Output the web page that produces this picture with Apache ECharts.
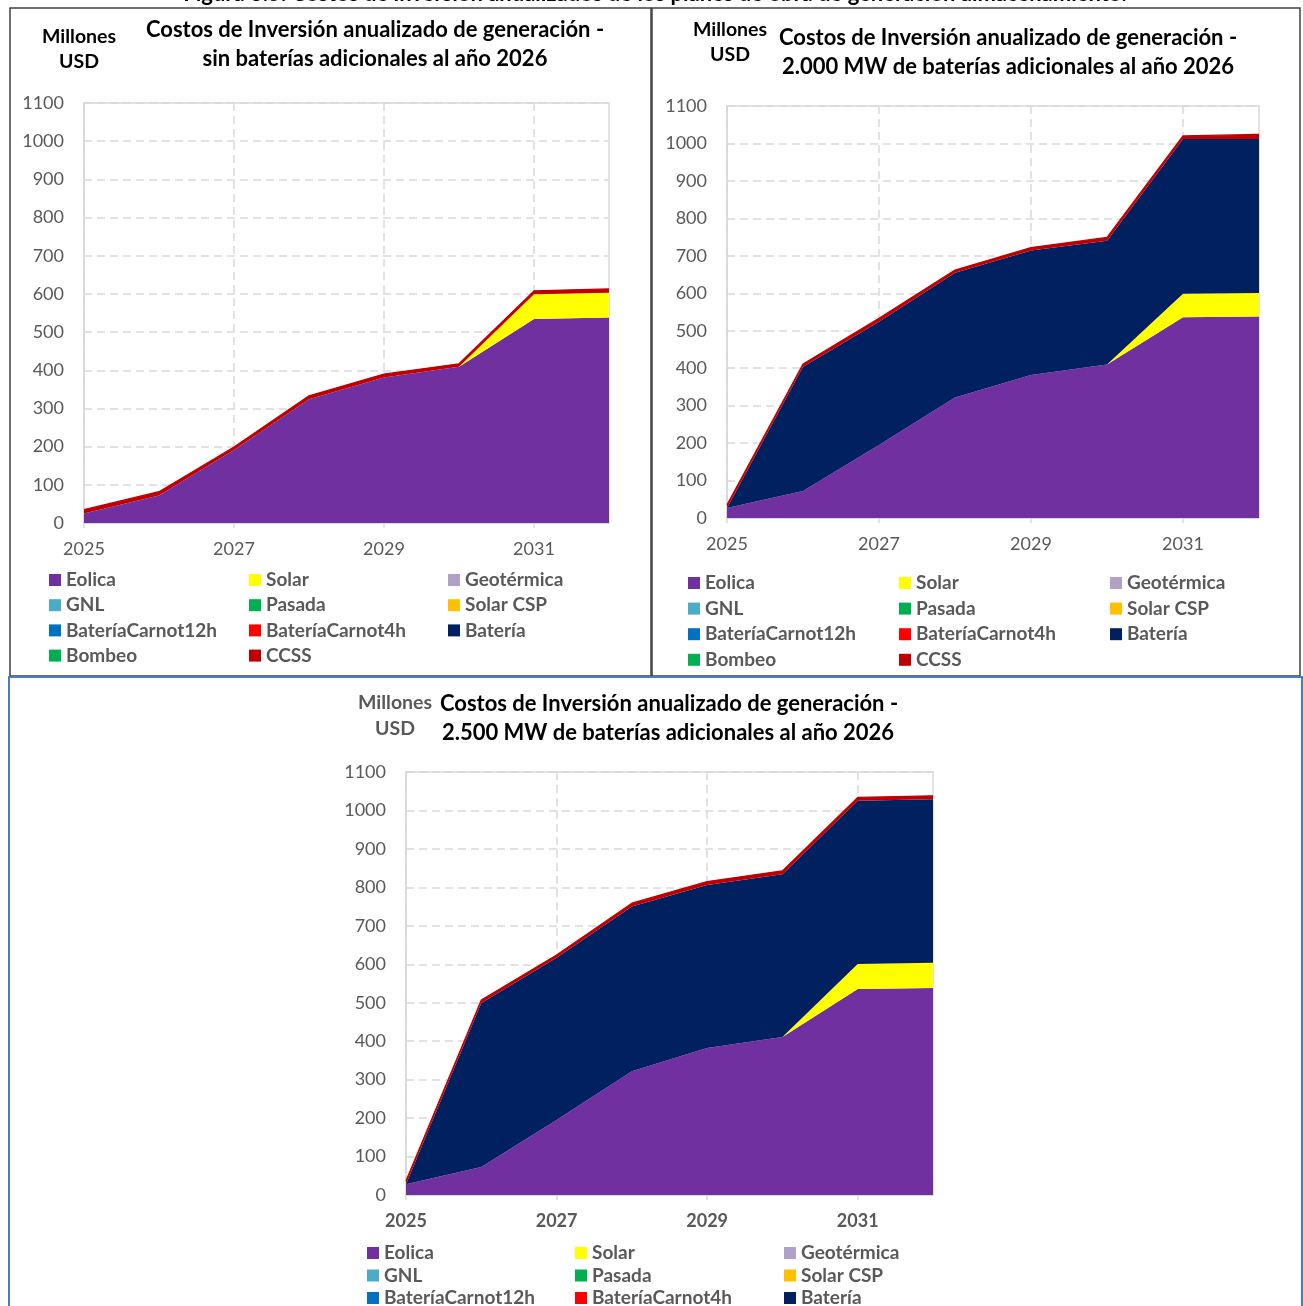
<!DOCTYPE html>
<html>
<head>
<meta charset="utf-8">
<script src="https://cdn.jsdelivr.net/npm/echarts@6/dist/echarts.min.js"></script>
<style>
  html, body { margin: 0; padding: 0; background: #ffffff; }
  #chart { width: 1303px; height: 1306px; }
</style>
</head>
<body>
<div id="chart"></div>
<script>
// Años del horizonte de planificación
const years = ['2025', '2026', '2027', '2028', '2029', '2030', '2031', '2032'];

// Tecnologías (orden de apilamiento) y sus colores
const techNames = ['Eolica', 'Solar', 'Geotérmica', 'GNL', 'Pasada', 'Solar CSP',
  'BateríaCarnot12h', 'BateríaCarnot4h', 'Batería', 'Bombeo', 'CCSS'];
const techColors = ['#7030A0', '#FFFF00', '#B1A0C7', '#4BACC6', '#00B050', '#FFC000',
  '#0070C0', '#FF0000', '#002060', '#00B050', '#C00000'];

// Eje Y (Millones USD)
const yMin = 0;
const yMax = 1100;
const yStep = 100;

// Escenario 1: sin baterías adicionales al año 2026
const eolicaSin = [25, 72, 191, 324, 381, 409, 534, 538];
const solarSin = [0, 0, 0, 0, 0, 0, 65, 65];
const bateriaSin = [0, 0, 0, 0, 0, 0, 0, 0];
const ccssSin = [10, 10, 8, 9, 9, 8, 9, 10];

// Escenario 2: 2.000 MW de baterías adicionales al año 2026
const eolica2000 = [27, 72, 195, 322, 382, 410, 536, 538];
const solar2000 = [0, 0, 0, 0, 0, 0, 63, 63];
const bateria2000 = [0, 332, 329, 333, 332, 330, 413, 411];
const ccss2000 = [8, 7, 9, 7, 8, 9, 8, 12];

// Escenario 3: 2.500 MW de baterías adicionales al año 2026
const eolica2500 = [28, 73, 195, 322, 382, 411, 536, 538];
const solar2500 = [0, 0, 0, 0, 0, 0, 65, 66];
const bateria2500 = [0, 426, 422, 428, 424, 423, 424, 425];
const ccss2500 = [9, 8, 7, 9, 9, 9, 9, 9];

// Tecnologías sin inversión en estos planes
const sinInversion = [0, 0, 0, 0, 0, 0, 0, 0];

const scenarios = [
  { eolica: eolicaSin, solar: solarSin, bateria: bateriaSin, ccss: ccssSin },
  { eolica: eolica2000, solar: solar2000, bateria: bateria2000, ccss: ccss2000 },
  { eolica: eolica2500, solar: solar2500, bateria: bateria2500, ccss: ccss2500 }
];

// Disposición de cada panel
const panels = [
  { grid: { left: 84, top: 103, width: 525, height: 420 }, boldX: false,
    legendLeft: [49, 249, 448], legendTop: 570.5, legendGap: 6.2 },
  { grid: { left: 727, top: 106, width: 532, height: 412 }, boldX: false,
    legendLeft: [688, 899, 1110], legendTop: 573.5, legendGap: 6.6 },
  { grid: { left: 406, top: 772, width: 527, height: 423 }, boldX: true,
    legendLeft: [367, 575, 784], legendTop: 1243.5, legendGap: 3.5 }
];

const legendColumns = [
  ['Eolica', 'GNL', 'BateríaCarnot12h', 'Bombeo'],
  ['Solar', 'Pasada', 'BateríaCarnot4h', 'CCSS'],
  ['Geotérmica', 'Solar CSP', 'Batería']
];

const FONT = 'Lato';
const grey = '#595959';
const gridGrey = '#D9D9D9';

function valuesFor(sc, name) {
  if (name === 'Eolica') return sc.eolica;
  if (name === 'Solar') return sc.solar;
  if (name === 'Batería') return sc.bateria;
  if (name === 'CCSS') return sc.ccss;
  return sinInversion;
}

const grids = [], xAxes = [], yAxes = [], series = [], legends = [];

panels.forEach((p, i) => {
  grids.push(Object.assign({ show: true, borderColor: gridGrey, borderWidth: 1.5,
    backgroundColor: 'transparent' }, p.grid));

  xAxes.push({
    type: 'category', gridIndex: i, data: years, boundaryGap: false,
    axisLine: { lineStyle: { color: gridGrey, width: 1.5 } },
    axisTick: { show: true, interval: 1, length: 5, lineStyle: { color: gridGrey, width: 1.5 } },
    axisLabel: { interval: 1, color: grey, fontFamily: FONT, fontSize: 18,
      fontWeight: p.boldX ? 'bold' : 'normal', margin: 17 },
    splitLine: { show: true, interval: 1, lineStyle: { color: gridGrey, width: 1.5, type: [8, 5] } }
  });

  yAxes.push({
    type: 'value', gridIndex: i, min: yMin, max: yMax, interval: yStep,
    axisLine: { show: true, lineStyle: { color: gridGrey, width: 1.5 } },
    axisTick: { show: false },
    axisLabel: { color: grey, fontFamily: FONT, fontSize: 18, margin: 20,
      formatter: (v) => String(v) },
    splitLine: { show: true, lineStyle: { color: gridGrey, width: 1.5, type: [8, 5] } }
  });

  techNames.forEach((name, k) => {
    const isTop = name === 'CCSS';
    series.push({
      name: name, type: 'line', xAxisIndex: i, yAxisIndex: i, stack: 'plan' + i,
      data: valuesFor(scenarios[i], name),
      color: techColors[k], symbol: 'none', silent: true,
      // la capa superior lleva un borde del mismo color
      lineStyle: { width: isTop ? 1.2 : 0, color: techColors[k] },
      areaStyle: { color: techColors[k], opacity: 1 }
    });
  });

  legendColumns.forEach((col, c) => {
    legends.push({
      data: col, orient: 'vertical', left: p.legendLeft[c], top: p.legendTop,
      width: 200, height: 140,
      padding: 0, itemGap: p.legendGap, itemWidth: 12, itemHeight: 12,
      icon: 'rect', selectedMode: false,
      textStyle: { color: grey, fontFamily: FONT, fontSize: 19, fontWeight: 'bold', lineHeight: 19 }
    });
  });
});

function txt(text, x, y, size, color, weight) {
  return { type: 'text', silent: true, z: 100,
    style: { text: text, x: x, y: y, fill: color || '#000',
      font: (weight || 'bold') + ' ' + size + 'px ' + FONT, align: 'center', verticalAlign: 'middle' } };
}

const graphics = [
  // Marcos de los paneles
  { type: 'rect', shape: { x: 10, y: 8, width: 641, height: 668 }, style: { fill: 'none', stroke: '#404040', lineWidth: 1.5 }, z: 50 },
  { type: 'rect', shape: { x: 652, y: 8, width: 648, height: 668 }, style: { fill: 'none', stroke: '#404040', lineWidth: 1.5 }, z: 50 },
  { type: 'rect', shape: { x: 9, y: 677, width: 1293, height: 640 }, style: { fill: 'none', stroke: '#4A7EBB', lineWidth: 2 }, z: 51 },
  // Leyenda de la figura
  txt('Figura 3.5: Costos de inversión anualizados de los planes de obra de generación almacenamiento.', 655, -6.5, 22, '#000'),
  // Panel 1
  txt('Costos de Inversión anualizado de generación -', 375, 30, 22),
  txt('sin baterías adicionales al año 2026', 375, 59, 22),
  txt('Millones', 79, 37, 19.5),
  txt('USD', 79, 62, 19.5),
  // Panel 2
  txt('Costos de Inversión anualizado de generación -', 1008, 38, 22),
  txt('2.000 MW de baterías adicionales al año 2026', 1008, 67, 22),
  txt('Millones', 730, 30, 19.5),
  txt('USD', 730, 55, 19.5),
  // Panel 3
  txt('Costos de Inversión anualizado de generación -', 669, 704, 22),
  txt('2.500 MW de baterías adicionales al año 2026', 668, 733, 22),
  txt('Millones', 395, 703, 19.5, grey),
  txt('USD', 395, 729, 19.5, grey)
];

const chart = echarts.init(document.getElementById('chart'), null, { renderer: 'canvas' });
chart.setOption({
  backgroundColor: '#ffffff',
  animation: false,
  grid: grids,
  xAxis: xAxes,
  yAxis: yAxes,
  legend: legends,
  series: series,
  graphic: graphics
});
</script>
</body>
</html>
